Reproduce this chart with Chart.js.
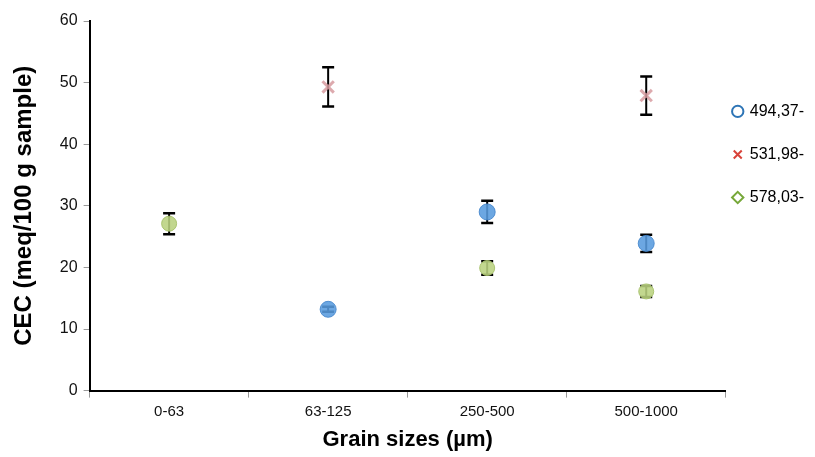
<!DOCTYPE html>
<html>
<head>
<meta charset="utf-8">
<script src="https://cdn.jsdelivr.net/npm/chart.js@4/dist/chart.umd.min.js"></script>
<style>
  body { margin: 0; background: #fff; }
  #wrap { width: 815px; height: 457px; }
</style>
</head>
<body>
<div id="wrap"><canvas id="graph"></canvas></div>
<script>
// grain size classes
const categories = ['0-63', '63-125', '250-500', '500-1000'];
const seriesNames = ['494,37-', '531,98-', '578,03-'];

// CEC means, null = not measured
const cec494 = [null, 13.2, 29.0, 23.9];
const cec531 = [null, 49.3, null, 47.9];
const cec578 = [27.1, null, 19.9, 16.1];

// +/- error
const err494 = [null, 0.4, 1.8, 1.4];
const err531 = [null, 3.2, null, 3.1];
const err578 = [1.7, null, 1.1, 0.9];

const yTicks = [0, 10, 20, 30, 40, 50, 60];

const errors = [err494, err531, err578];
const legendStroke = ['#2e75b6', '#d9433a', '#77a83a'];

// error bars drawn from the scales, under the markers
const errorBars = {
  id: 'errorBars',
  beforeDatasetsDraw(chart) {
    const ctx = chart.ctx;
    const x = chart.scales.x, y = chart.scales.y;
    ctx.save();
    ctx.strokeStyle = '#000';
    chart.data.datasets.forEach((ds, i) => {
      ds.data.forEach((v, j) => {
        const e = errors[i][j];
        if (v == null || e == null) return;
        const px = x.getPixelForValue(j);
        const top = y.getPixelForValue(v + e);
        const bot = y.getPixelForValue(v - e);
        ctx.lineWidth = 2;
        ctx.beginPath();
        ctx.moveTo(px, top); ctx.lineTo(px, bot);
        ctx.stroke();
        ctx.lineWidth = 2.5;
        ctx.beginPath();
        ctx.moveTo(px - 6, top); ctx.lineTo(px + 6, top);
        ctx.moveTo(px - 6, bot); ctx.lineTo(px + 6, bot);
        ctx.stroke();
      });
    });
    ctx.restore();
  }
};

Chart.defaults.font.family = '"Liberation Sans", Arial, sans-serif';
Chart.defaults.color = '#000';

new Chart(document.getElementById('graph'), {
  type: 'line',
  data: {
    labels: categories,
    datasets: [
      {
        label: seriesNames[0],
        data: cec494,
        showLine: false,
        pointStyle: 'circle',
        pointRadius: 8,
        backgroundColor: 'rgba(88,155,222,0.88)',
        borderColor: 'rgba(70,135,205,0.9)',
        borderWidth: 1
      },
      {
        label: seriesNames[1],
        data: cec531,
        showLine: false,
        pointStyle: 'crossRot',
        pointRadius: 8,
        backgroundColor: 'rgba(215,155,160,0.85)',
        borderColor: 'rgba(215,155,160,0.85)',
        borderWidth: 3
      },
      {
        label: seriesNames[2],
        data: cec578,
        showLine: false,
        pointStyle: 'circle',
        pointRadius: 7.5,
        backgroundColor: 'rgba(185,210,128,0.88)',
        borderColor: 'rgba(165,192,105,0.9)',
        borderWidth: 1
      }
    ]
  },
  options: {
    responsive: true,
    maintainAspectRatio: false,
    animation: false,
    layout: { padding: { left: 8, right: 1, top: 21, bottom: 4 } },
    plugins: {
      tooltip: { enabled: false },
      legend: {
        position: 'right',
        align: 'start',
        title: { display: true, text: ' ', padding: { top: 60, bottom: 0 } },
        labels: {
          usePointStyle: true,
          boxWidth: 8,
          boxHeight: 8,
          padding: 8,
          font: { size: 16, lineHeight: 2.19 },
          generateLabels(chart) {
            return chart.data.datasets.map((ds, i) => ({
              text: [ds.label],
              fillStyle: 'rgba(0,0,0,0)',
              strokeStyle: legendStroke[i],
              lineWidth: 2,
              pointStyle: ['circle', 'crossRot', 'rectRot'][i],
              datasetIndex: i
            }));
          }
        }
      }
    },
    scales: {
      x: {
        type: 'category',
        offset: true,
        grid: { offset: true, drawOnChartArea: false, tickLength: 7, color: '#999', tickWidth: 1 },
        border: { color: '#000', width: 2 },
        ticks: { font: { size: 15, lineHeight: 1 }, color: '#111', padding: 7 },
        title: { display: true, text: 'Grain sizes (µm)', font: { size: 22, weight: 'bold' }, padding: { top: 0, bottom: 0 } }
      },
      y: {
        min: 0,
        max: 60,
        afterBuildTicks(axis) { axis.ticks = yTicks.map(v => ({ value: v })); },
        grid: { drawOnChartArea: false, tickLength: 6, color: '#999' },
        border: { color: '#000', width: 2 },
        ticks: { font: { size: 16 }, color: '#111', padding: 6 },
        title: { display: true, text: 'CEC (meq/100 g sample)', font: { size: 24, weight: 'bold' }, padding: { top: 2, bottom: 15 } }
      }
    }
  },
  plugins: [errorBars]
});
</script>
</body>
</html>
